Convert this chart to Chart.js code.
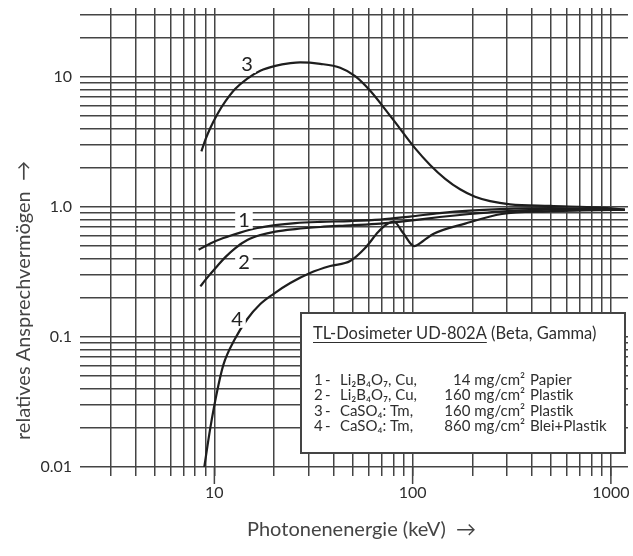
<!DOCTYPE html>
<html>
<head>
<meta charset="utf-8">
<script src="https://cdn.jsdelivr.net/npm/chart.js@4/dist/chart.umd.min.js"></script>
<style>
  html, body { margin: 0; padding: 0; background: #fff; }
  #wrap { width: 633px; height: 556px; }
</style>
</head>
<body>
<div id="wrap"><canvas id="chart" width="633" height="556"></canvas></div>
<script>
// curve 1: Li2B4O7:Cu, 14 mg/cm2 Papier
const energy1 = [8.33, 9.54, 11.1, 13.5, 16.5, 20.3, 25.6, 34.2, 48.4, 68.6, 97, 137, 194, 275, 493, 1176];
const resp1 = [0.469, 0.524, 0.577, 0.636, 0.69, 0.727, 0.753, 0.769, 0.78, 0.801, 0.845, 0.899, 0.94, 0.965, 0.982, 0.953];

// curve 2: Li2B4O7:Cu, 160 mg/cm2 Plastik
const energy2 = [8.5, 9.01, 9.54, 10.35, 11.36, 12.76, 14.66, 17.05, 20.3, 25.6, 34.2, 48.4, 68.6, 97, 137, 194, 275, 493, 1176];
const resp2 = [0.245, 0.275, 0.305, 0.352, 0.412, 0.484, 0.557, 0.609, 0.648, 0.677, 0.702, 0.723, 0.746, 0.787, 0.838, 0.884, 0.923, 0.957, 0.953];

// curve 3: CaSO4:Tm, 160 mg/cm2 Plastik
const energy3 = [8.6, 9.01, 9.54, 10.35, 11.36, 12.76, 14.66, 17.05, 20.3, 24.2, 27.1, 34.2, 43.1, 51.3, 61.1, 72.7, 86.5, 103, 122.5, 146, 173.5, 206.5, 246, 310, 493, 880, 1176];
const resp3 = [2.68, 3.3, 4.06, 5.18, 6.49, 8.12, 9.74, 11.19, 12.2, 12.79, 12.97, 12.64, 11.79, 10.17, 7.85, 5.65, 4.0, 2.83, 2.11, 1.65, 1.37, 1.2, 1.11, 1.05, 1.02, 0.99, 0.957];

// curve 4: CaSO4:Tm, 860 mg/cm2 Blei+Plastik
const energy4 = [8.85, 9.54, 10.29, 11.1, 12.61, 14.66, 17.05, 19.83, 24.15, 30.4, 38.4, 48.4, 57.6, 67, 74.4, 80.2, 89.6, 101.8, 113, 126.9, 184, 282, 476, 1176];
const resp4 = [0.0095, 0.02, 0.0373, 0.061, 0.0947, 0.1376, 0.1794, 0.2142, 0.2602, 0.3108, 0.3516, 0.3843, 0.484, 0.642, 0.74, 0.774, 0.631, 0.501, 0.548, 0.62, 0.746, 0.884, 0.927, 0.953];

// grid and ticks
const xGridValues = [3, 4, 5, 6, 7, 8, 9, 10, 20, 30, 40, 50, 60, 70, 80, 90, 100, 200, 300, 400, 500, 600, 700, 800, 900, 1000];
const xLabelValues = [10, 100, 1000];
const xLabelText = ['10', '100', '1000'];
const yGridValues = [0.01, 0.02, 0.03, 0.04, 0.05, 0.06, 0.07, 0.08, 0.09, 0.1, 0.2, 0.3, 0.4, 0.5, 0.6, 0.7, 0.8, 0.9, 1, 2, 3, 4, 5, 6, 7, 8, 9, 10, 20, 30];
const yLabelValues = [0.01, 0.1, 1, 10];
const yLabelText = ['0.01', '0.1', '1.0', '10'];

// curve numbers written next to the lines
const curveLabels = ['1', '2', '3', '4'];
const curveLabelE = [14.1, 14.1, 14.6, 13.0];
const curveLabelR = [0.8, 0.38, 12.6, 0.138];

// legend box text
const legendTitle = 'TL-Dosimeter UD-802A';
const legendTitleRest = ' (Beta, Gamma)';
const legendNums = ['1', '2', '3', '4'];
const legendCompounds = ['Li₂B₄O₇, Cu,', 'Li₂B₄O₇, Cu,', 'CaSO₄: Tm,', 'CaSO₄: Tm,'];
const legendAmounts = ['14 mg/cm²', '160 mg/cm²', '160 mg/cm²', '860 mg/cm²'];
const legendMaterials = ['Papier', 'Plastik', 'Plastik', 'Blei+Plastik'];

const FONT = 'Lato, "DejaVu Sans", sans-serif';
const INK = '#2e2e2e';
const GRID = '#444';

const toPoints = (xs, ys) => xs.map((x, i) => ({ x, y: ys[i] }));

const curveStyle = {
  borderColor: '#1e1e1e',
  borderWidth: 2.2,
  pointRadius: 0,
  fill: false,
  cubicInterpolationMode: 'monotone',
};

const overlayPlugin = {
  id: 'overlay',
  afterDatasetsDraw(chart) {
    const { ctx, chartArea, scales } = chart;
    const xs = scales.x, ys = scales.y;
    ctx.save();

    // curve numbers
    ctx.font = '20px ' + FONT;
    ctx.textAlign = 'center';
    ctx.textBaseline = 'middle';
    curveLabels.forEach((t, i) => {
      const px = xs.getPixelForValue(curveLabelE[i]);
      const py = ys.getPixelForValue(curveLabelR[i]);
      const w = ctx.measureText(t).width + 6;
      ctx.fillStyle = '#fff';
      ctx.fillRect(px - w / 2, py - 9, w, 18);
      ctx.fillStyle = '#222';
      ctx.fillText(t, px, py + 1);
    });

    // legend box
    const left = chartArea.left + 221;
    const top = chartArea.top + 305;
    const w = chartArea.right - 3 - left;
    const h = chartArea.bottom - 14 - top;
    ctx.fillStyle = '#fff';
    ctx.fillRect(left, top, w, h);
    ctx.strokeStyle = '#444';
    ctx.lineWidth = 2;
    ctx.strokeRect(left, top, w, h);

    ctx.fillStyle = INK;
    ctx.textAlign = 'left';
    ctx.textBaseline = 'alphabetic';
    ctx.font = '16.5px ' + FONT;
    const tx = left + 12;
    const ty = top + 26;
    ctx.fillText(legendTitle, tx, ty);
    const tw = ctx.measureText(legendTitle).width;
    ctx.fillRect(tx, ty + 3, tw, 1);
    ctx.fillText(legendTitleRest, tx + tw, ty);

    ctx.font = '15px ' + FONT;
    legendNums.forEach((n, i) => {
      const by = top + 72 + i * 15.3;
      ctx.textAlign = 'left';
      ctx.fillText(n, tx + 1, by);
      ctx.fillText('-', tx + 12, by);
      ctx.fillText(legendCompounds[i], tx + 27, by);
      ctx.textAlign = 'right';
      ctx.fillText(legendAmounts[i], left + 224, by);
      ctx.textAlign = 'left';
      ctx.fillText(legendMaterials[i], left + 229, by);
    });
    ctx.restore();
  },
  afterDraw(chart) {
    const { ctx, chartArea, scales } = chart;
    ctx.save();
    // longer ticks at the decades
    ctx.strokeStyle = GRID;
    ctx.lineWidth = 1.5;
    xLabelValues.forEach(v => {
      const px = scales.x.getPixelForValue(v);
      ctx.beginPath();
      ctx.moveTo(px, chartArea.bottom);
      ctx.lineTo(px, chartArea.bottom + 17);
      ctx.stroke();
    });

    // axis titles
    ctx.fillStyle = '#444';
    ctx.font = '20px ' + FONT;
    ctx.textBaseline = 'middle';
    ctx.textAlign = 'left';
    ctx.fillText('Photonenenergie (keV)  →', chartArea.left + 167, chartArea.bottom + 63);

    ctx.translate(chartArea.left - 56, chartArea.bottom - 27);
    ctx.rotate(-Math.PI / 2);
    ctx.fillText('relatives Ansprechvermögen  →', 0, 0);
    ctx.restore();
  },
};

new Chart(document.getElementById('chart'), {
  type: 'line',
  data: {
    datasets: [
      { label: '1', data: toPoints(energy1, resp1), ...curveStyle },
      { label: '2', data: toPoints(energy2, resp2), ...curveStyle },
      { label: '3', data: toPoints(energy3, resp3), ...curveStyle },
      { label: '4', data: toPoints(energy4, resp4), ...curveStyle },
    ],
  },
  options: {
    responsive: false,
    animation: false,
    devicePixelRatio: 1,
    layout: { padding: { top: 8, right: 5, left: 0, bottom: 0 } },
    plugins: {
      legend: { display: false },
      tooltip: { enabled: false },
    },
    scales: {
      x: {
        type: 'logarithmic',
        min: 2.1,
        max: 1220,
        afterBuildTicks: scale => {
          scale.ticks = xGridValues.map(v => ({ value: v }));
        },
        afterFit: scale => {
          scale.height = 89;
          scale.paddingLeft = 0;
          scale.paddingRight = 0;
        },
        border: { display: false },
        grid: { color: GRID, lineWidth: 1.5, tickLength: 9, tickColor: GRID },
        ticks: {
          autoSkip: false,
          maxRotation: 0,
          padding: 7,
          color: INK,
          font: { family: FONT, size: 16 },
          callback: value => {
            const i = xLabelValues.indexOf(value);
            return i >= 0 ? xLabelText[i] : '';
          },
        },
      },
      y: {
        type: 'logarithmic',
        min: 0.01,
        max: 34,
        afterBuildTicks: scale => {
          scale.ticks = yGridValues.map(v => ({ value: v }));
        },
        afterFit: scale => {
          scale.width = 80;
          scale.paddingTop = 0;
          scale.paddingBottom = 0;
        },
        border: { display: false },
        grid: { color: GRID, lineWidth: 1.5, drawTicks: false },
        ticks: {
          autoSkip: false,
          padding: 8,
          color: INK,
          font: { family: FONT, size: 16 },
          callback: value => {
            const i = yLabelValues.indexOf(value);
            return i >= 0 ? yLabelText[i] : '';
          },
        },
      },
    },
  },
  plugins: [overlayPlugin],
});
</script>
</body>
</html>
